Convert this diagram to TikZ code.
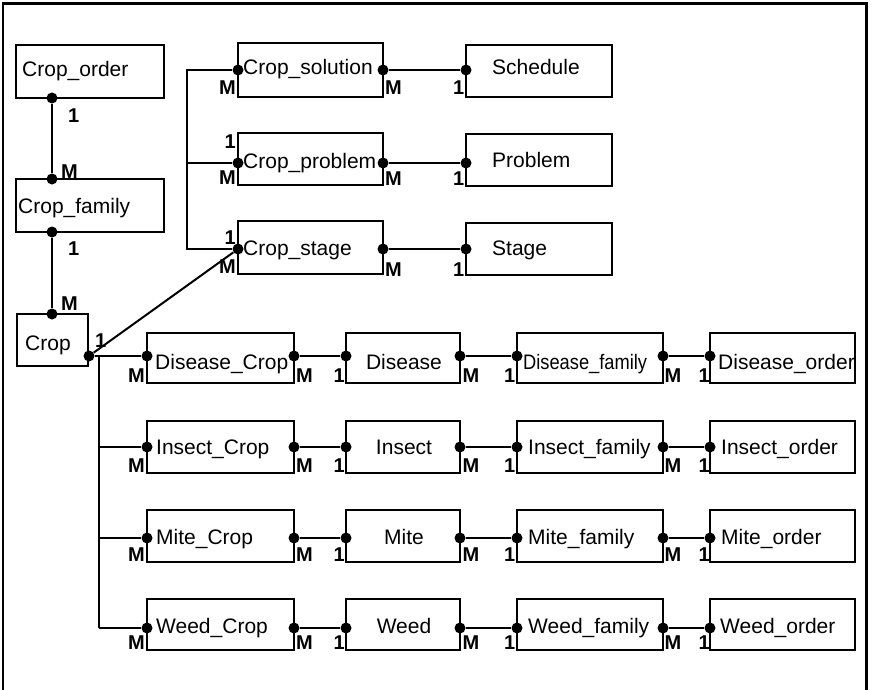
\documentclass[tikz,border=0pt]{standalone}
\usepackage{graphicx}
\usepackage{fontspec}
\setmainfont{Liberation Sans}
\usetikzlibrary{fit}
\begin{document}
\begin{tikzpicture}[x=1pt,y=-1pt,
  box/.style={draw, line width=2pt, inner sep=0pt, rectangle},
  txt/.style={inner sep=0pt, font=\fontsize{21}{25}\selectfont},
  lbl/.style={inner sep=0pt, font=\bfseries\fontsize{20}{23}\selectfont},
  dotn/.style={circle, fill=black, inner sep=0pt, minimum size=11pt},
  conn/.style={line width=2pt}]
\useasboundingbox (0,0) rectangle (872,690);
% frame
\draw[line width=2.5pt] (3,692) -- (3,3.5) -- (866.5,3.5) -- (866.5,692);

% ---------- upper left ----------
\node[box, fit={(16,45) (164,98)}] (corder) {};
\node[txt, anchor=base west] (corder-t) at (22,77) {Crop\_order};
\node[box, fit={(16,179) (164,232)}] (cfam) {};
\node[txt, anchor=base west] (cfam-t) at (18,213) {Crop\_family};
\node[box, fit={(17,314) (88,366)}] (crop) {};
\node[txt, anchor=base west] (crop-t) at (25,350) {Crop};

% ---------- upper middle ----------
\node[box, fit={(238,43) (383,97)}] (csol) {};
\node[txt, anchor=base west] (csol-t) at (243,75) {Crop\_solution};
\node[box, fit={(238,133) (383,185)}] (cprob) {};
\node[txt, anchor=base west] (cprob-t) at (243,168) {Crop\_problem};
\node[box, fit={(238,221) (383,274)}] (cstage) {};
\node[txt, anchor=base west] (cstage-t) at (243,255) {Crop\_stage};
\node[box, fit={(466,45) (612,97)}] (sched) {};
\node[txt, anchor=base west] (sched-t) at (492,75) {Schedule};
\node[box, fit={(466,134) (612,186)}] (prob) {};
\node[txt, anchor=base west] (prob-t) at (492,167) {Problem};
\node[box, fit={(466,223) (612,275)}] (stage) {};
\node[txt, anchor=base west] (stage-t) at (492,255) {Stage};

% dots upper
\node[dotn] (co-s) at (52,98) {};
\node[dotn] (cf-n) at (52,179) {};
\node[dotn] (cf-s) at (52,232) {};
\node[dotn] (cr-n) at (52,314) {};
\node[dotn] (cr-e) at (89,356) {};
\node[dotn] (cs-w) at (238,70) {};
\node[dotn] (cs-e) at (383,70) {};
\node[dotn] (sc-w) at (466,70) {};
\node[dotn] (cp-w) at (238,163) {};
\node[dotn] (cp-e) at (383,163) {};
\node[dotn] (pr-w) at (466,163) {};
\node[dotn] (st-w) at (238,249) {};
\node[dotn] (st-e) at (383,249) {};
\node[dotn] (sg-w) at (466,249) {};

\coordinate (ub1) at (187,70);
\coordinate (ub2) at (187,163);
\coordinate (ub3) at (187,249);

\draw[conn] (co-s) -- (cf-n);
\draw[conn] (cf-s) -- (cr-n);
\draw[conn] (cs-e) -- (sc-w);
\draw[conn] (cp-e) -- (pr-w);
\draw[conn] (st-e) -- (sg-w);
\draw[conn] (cs-w) -- (ub1) -- (ub3) -- (st-w);
\draw[conn] (ub2) -- (cp-w);
\draw[conn] (cr-e) -- (st-w);

% labels upper
\node[lbl, anchor=base west] (l-co) at (68,123) {1};
\node[lbl, anchor=base west] (l-cf) at (61,178) {M};
\node[lbl, anchor=base west] (l-cf2) at (68,255) {1};
\node[lbl, anchor=base west] (l-cr) at (61,310) {M};
\node[lbl, anchor=base west] (l-cr2) at (95,347) {1};
\node[lbl, anchor=base east] (l-cs1) at (236,95) {M};
\node[lbl, anchor=base east] (l-cp1) at (236,148) {1};
\node[lbl, anchor=base east] (l-cp2) at (236,184) {M};
\node[lbl, anchor=base east] (l-st1) at (236,244) {1};
\node[lbl, anchor=base east] (l-st2) at (236,273) {M};
\node[lbl, anchor=base west] (l-cs2) at (385,95) {M};
\node[lbl, anchor=base east] (l-sc) at (464.5,95) {1};
\node[lbl, anchor=base west] (l-cp3) at (385,185) {M};
\node[lbl, anchor=base east] (l-pr) at (464.5,185) {1};
\node[lbl, anchor=base west] (l-st3) at (385,276) {M};
\node[lbl, anchor=base east] (l-sg) at (464.5,276) {1};

% ---------- rows ----------
\foreach \n/\A/\B/\C/\D/\top/\bot/\ly/\bl/\xa/\xc/\xd in {
  dis/Disease\_Crop/Disease/{\scalebox{0.87}[1]{Disease\_family}}/Disease\_order/333/383/356/369/155/523/718,
  ins/Insect\_Crop/Insect/Insect\_family/Insect\_order/421/473/447/454/156/528/721,
  mit/Mite\_Crop/Mite/Mite\_family/Mite\_order/510/562/538/544/156/528/721,
  wee/Weed\_Crop/Weed/Weed\_family/Weed\_order/599/650/628/633/156/528/720}{
  \node[box, fit={(147,\top) (294,\bot)}] (\n-c) {};
  \node[box, fit={(346,\top) (460,\bot)}] (\n-m) {};
  \node[box, fit={(517,\top) (663,\bot)}] (\n-f) {};
  \node[box, fit={(710,\top) (855,\bot)}] (\n-o) {};
  \node[txt, anchor=base west] (\n-ct) at (\xa,\bl) {\A};
  \node[txt, anchor=base] (\n-mt) at (404,\bl) {\B};
  \node[txt, anchor=base west] (\n-ft) at (\xc,\bl) {\C};
  \node[txt, anchor=base west] (\n-ot) at (\xd,\bl) {\D};
  \node[dotn] (\n-d1) at (147,\ly) {};
  \node[dotn] (\n-d2) at (294,\ly) {};
  \node[dotn] (\n-d3) at (346,\ly) {};
  \node[dotn] (\n-d4) at (460,\ly) {};
  \node[dotn] (\n-d5) at (517,\ly) {};
  \node[dotn] (\n-d6) at (663,\ly) {};
  \node[dotn] (\n-d7) at (710,\ly) {};
  \coordinate (\n-b) at (99,\ly);
  \draw[conn] (\n-b) -- (\n-d1);
  \draw[conn] (\n-d2) -- (\n-d3);
  \draw[conn] (\n-d4) -- (\n-d5);
  \draw[conn] (\n-d6) -- (\n-d7);
  \node[lbl, anchor=base east] (\n-l1) at (145,\bot-1) {M};
  \node[lbl, anchor=base west] (\n-l2) at (296,\bot-1) {M};
  \node[lbl, anchor=base east] (\n-l3) at (345,\bot-1) {1};
  \node[lbl, anchor=base west] (\n-l4) at (462.5,\bot-1) {M};
  \node[lbl, anchor=base east] (\n-l5) at (515.5,\bot-1) {1};
  \node[lbl, anchor=base west] (\n-l6) at (664.5,\bot-1) {M};
  \node[lbl, anchor=base east] (\n-l7) at (710,\bot-1) {1};
}
\draw[conn] (cr-e) -- (dis-d1);
\draw[conn] (dis-b) -- (wee-b);
\end{tikzpicture}
\end{document}
